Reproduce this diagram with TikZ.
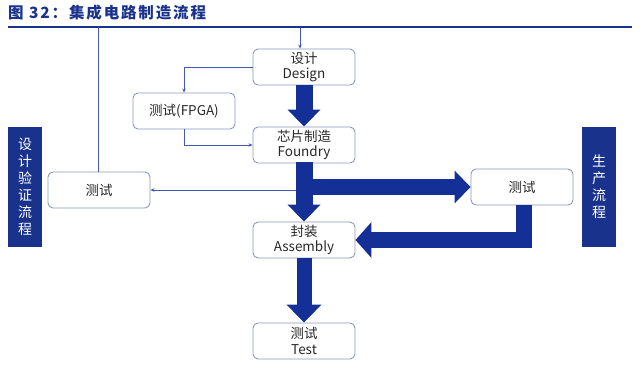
\documentclass[tikz,border=0pt]{standalone}
\usepackage{fontspec}
\setmainfont{Noto Sans CJK SC}
\newfontfamily\cjk{Noto Sans CJK SC}
\newfontfamily\cjkt[LetterSpace=12]{Noto Sans CJK SC}
\usetikzlibrary{arrows.meta,calc}
\definecolor{dblue}{RGB}{20,48,150}
\definecolor{tblue}{RGB}{25,50,140}
\definecolor{lblue}{RGB}{70,90,175}
\definecolor{bgray}{RGB}{140,150,190}
\definecolor{tgray}{RGB}{40,40,40}
\tikzset{
  box/.style={draw=bgray, line width=0.9pt, rounded corners=5pt, fill=white,
    minimum width=102pt, minimum height=36pt, inner sep=0pt, align=center,
    text=tgray, font=\cjk\fontsize{13.5}{15.5}\selectfont},
  bar/.style={fill=tblue, minimum width=34pt, minimum height=120pt, inner sep=0pt,
    align=center, text=white, font=\cjk\fontsize{14}{17}\selectfont},
  thin/.style={draw=lblue, line width=0.6pt},
  thinarr/.style={thin, -{Stealth[length=4pt,width=3.5pt]}},
  fat/.style={draw=dblue, line width=17pt, -{Triangle[width=32pt,length=17pt]}},
}
\begin{document}
\begin{tikzpicture}[x=1pt,y=-1pt]
\useasboundingbox (0,0) rectangle (640,369);
% title
\node[anchor=west, text=tblue, font=\cjkt\bfseries\fontsize{15.5}{16}\selectfont, inner sep=0pt] (title) at (8,13) {图 32：集成电路制造流程};
\coordinate (tl) at (8,27);
\coordinate (tr) at (632,27);
\draw[draw=tblue, line width=1.8pt] (tl) -- (tr);
% boxes
\node[box] (des) at (304,67) {设计\\Design};
\node[box] (fpga) at (184,111) {测试(FPGA)};
\node[box] (fnd) at (304,145) {芯片制造\\Foundry};
\node[box] (lt) at (99,190) {测试};
\node[box] (rt) at (522,187) {测试};
\node[box] (asm) at (304,240) {封装\\Assembly};
\node[box] (tst) at (304,341) {测试\\Test};
\node[bar] (lbar) at (25,187) {设\\计\\验\\证\\流\\程};
\node[bar] (rbar) at (599,187) {生\\产\\流\\程};
% thin connectors
\coordinate (t1) at (300,27);
\coordinate (t2) at (98,27);
\draw[thinarr] (t1) -- (t1 |- des.north);
\draw[thin] (lt.north -| t2) -- (t2);
\draw[thinarr] (des.west) -| (fpga.north);
\draw[thinarr] (fpga.south) |- (fnd.west);
\draw[thinarr] (fnd.south |- lt.east) -- (lt.east);
% fat arrows
\draw[fat] (des.south) -- (fnd.north);
\draw[fat, shorten <=-1pt] (fnd.south) -- (asm.north);
\draw[fat, -{Triangle[width=32pt,length=16pt]}, line width=16pt] (fnd.south |- rt.west) -- (rt.west);
\draw[fat, line join=miter, line width=16pt, -{Triangle[width=35pt,length=16pt]}] ($(rt.south)+(1.5,0)$) |- (asm.east);
\draw[fat, line width=15pt, -{Triangle[width=34pt,length=18pt]}] (asm.south) -- (tst.north);
\end{tikzpicture}
\end{document}
